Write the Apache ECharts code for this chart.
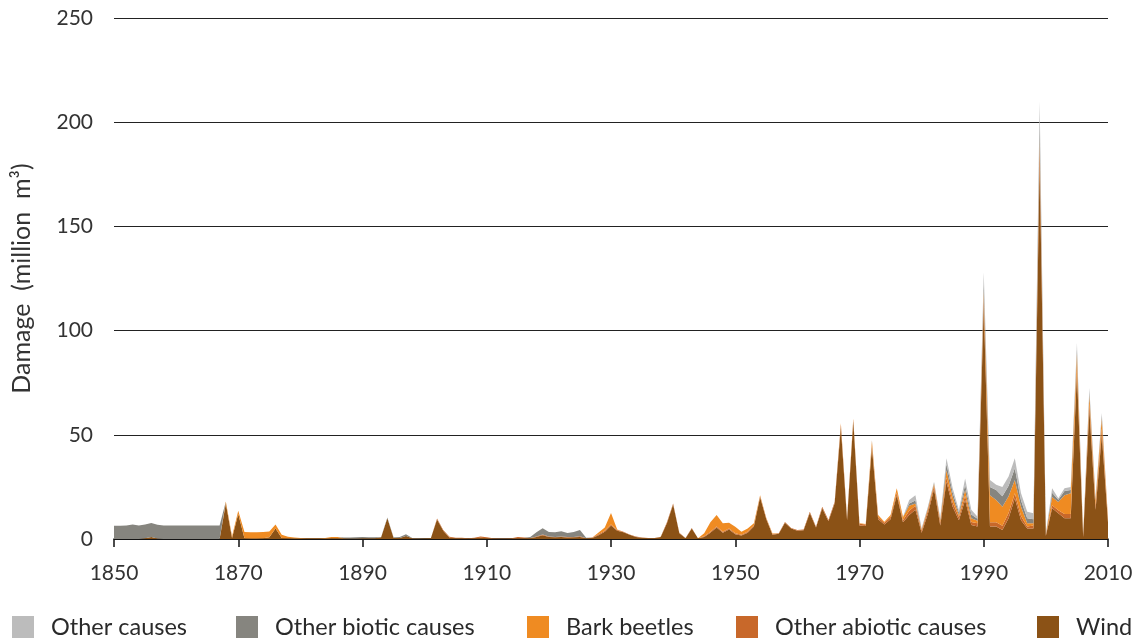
<!DOCTYPE html>
<html>
<head>
<meta charset="utf-8">
<script src="https://cdn.jsdelivr.net/npm/echarts@6/dist/echarts.min.js"></script>
<style>
html,body{margin:0;padding:0;background:#fff;}
#chart{width:1135px;height:640px;}
</style>
</head>
<body>
<div id="chart"></div>
<script>
// Categories: years 1850..2010
var startYear = 1850, endYear = 2010;
var years = [];
for (var y = startYear; y <= endYear; y++) years.push(String(y));

var seriesNames = ['Other causes', 'Other biotic causes', 'Bark beetles', 'Other abiotic causes', 'Wind'];
var yTicks = [0, 50, 100, 150, 200, 250];

// million m3 per year, 1850..2010 (10 values per row)
var wind = [
 0,0,0,0,0,0.3,1,0.2,0,0,
 0,0,0,0,0,0,0,0,17,0.5,
 12,0.3,0.2,0.2,0.3,0.8,5,0.5,0.3,0.2,
 0.2,0.2,0.2,0.2,0.2,0.3,0.3,0.2,0.2,0.2,
 0.3,0.3,0.3,0.8,10,0.6,0.5,1.4,0.3,0.2,
 0.2,0.4,9.3,4,0.6,0.3,0.3,0.2,0.3,0.6,
 0.4,0.2,0.1,0.1,0.2,0.4,0.4,0.3,1,1.8,
 1,0.8,1,0.7,0.8,1,0.3,0.5,1.8,3.5,
 6.5,4,3.2,2,1,0.6,0.4,0.4,0.9,7.5,
 16.5,2.7,0.4,5,0.3,1,3,5.5,3,4.5,
 2.3,1.7,3,6,20,9.5,2,2.5,7.8,5,
 4,4.2,12.5,5.5,14.8,8.5,17.2,53.5,9,56.5,
 6.5,6.2,44,9.5,7,9.5,21,8,11.5,14,
 3,12,24,6.5,27.5,15.5,9,18.7,6.7,6,
 112,6,6,4.3,10,19.5,9,5,5,180,
 1.5,14.7,12.3,10,10,80,1,62,14,50,
 8
];
var otherAbiotic = [
 0,0,0,0,0,0,0,0,0,0,
 0,0,0,0,0,0,0,0,0,0,
 0,0,0,0,0,0,0,0,0,0,
 0,0,0,0,0,0,0,0,0,0,
 0,0,0,0,0,0,0,0,0,0,
 0,0,0.5,0.3,0.5,0.3,0.3,0.2,0.3,0.6,
 0.4,0.2,0.1,0.1,0.2,0.5,0.3,0.2,0.2,0.3,
 0.2,0.2,0.2,0.2,0.2,0.3,0.1,0.2,0.5,0.5,
 0.5,0.3,0.3,0.2,0.2,0.1,0.1,0.1,0.2,0.5,
 0.5,0.3,0.1,0.3,0.1,0.3,0.5,0.5,0.5,0.5,
 0.4,0.3,0.5,0.5,0.5,0.3,0.3,0.3,0.4,0.3,
 0.3,0.3,0.6,0.4,0.7,0.6,0.7,1.5,0.8,1,
 0.8,0.8,1,1,0.8,1,1.3,1,2,2,
 1,1.5,1.5,1.5,2,2,1.5,2,1.5,1.5,
 4,2,2,2,2.5,2.5,2,1,1.5,8,
 0.5,1.5,1.5,2,2,3,0.5,3,2,3,
 1
];
var barkBeetles = [
 0,0,0,0,0,0,0,0,0,0,
 0,0,0,0,0,0,0,0,1,0.8,
 1.5,3,3,3,3,2.8,2,1.5,0.8,0.5,
 0.3,0.2,0.2,0.2,0.3,0.6,0.7,0.2,0,0,
 0,0,0,0,0,0,0,0,0,0,
 0,0,0,0,0,0,0,0,0,0,
 0,0,0,0,0,0,0,0,0,0,
 0,0,0,0,0,0,0,0,0.8,1.5,
 5.5,0.3,0,0,0,0,0,0,0,0,
 0,0,0,0,0,1.5,4.5,5.5,4,2.8,
 3.2,1.5,1.5,1,0.5,0.3,0.3,0,0,0,
 0,0,0,0,0,0,0,0.5,0.2,0.5,
 0.2,0.2,2,1,0.5,1,2,1.5,2.5,1,
 0.5,1,1,1,3.5,2.8,1,2.8,1.8,1.2,
 3,13,10.7,9.2,8,6.3,4.5,1.5,1,4,
 0.3,4,4,9,10,6,0.3,4,2.5,5,
 1
];
var otherBiotic = [
 6.3,6.4,6.5,6.9,6.5,6.6,6.7,6.6,6.5,6.5,
 6.5,6.5,6.5,6.5,6.5,6.5,6.5,6.5,0,0,
 0,0,0,0,0,0,0,0,0,0,
 0,0,0,0,0,0,0,0.3,0.5,0.6,
 0.6,0.5,0.5,0.2,0.3,0.2,0.4,0.9,0.2,0.1,
 0,0,0,0,0,0,0,0,0,0,
 0,0,0,0,0,0,0,0.4,2,3,
 2.2,2.2,2.5,2,2.3,3,0.2,0,0,0,
 0,0,0,0,0,0,0,0,0,0,
 0,0,0,0,0,0,0,0,0,0,
 0,0,0,0,0,0,0,0,0,0,
 0,0,0,0,0,0,0,0,0,0,
 0,0,0.3,0,0,0,0,0,1,1.5,
 0.3,0.5,0.5,0.5,3,2,1.2,2.5,1.8,1,
 4,4,4.8,5,5,5.7,3,2.5,2,8,
 0.2,2,1,2,1.5,2,0.1,1.5,0.6,1.2,
 0
];
var otherCauses = [
 0,0,0,0,0,0,0,0,0,0,
 0,0,0,0,0,0,0,0,0,0,
 0,0,0,0,0,0,0,0,0,0,
 0,0,0,0,0,0,0,0,0,0,
 0,0,0,0,0,0,0,0,0,0,
 0,0,0,0,0,0,0,0,0,0,
 0,0,0,0,0,0,0,0,0,0,
 0,0,0,0,0,0,0,0,0,0,
 0,0,0,0,0,0,0,0,0,0,
 0,0,0,0,0,0,0,0,0,0,
 0,0,0,0,0,0,0,0,0,0,
 0,0,0,0,0,0,0,0,0,0,
 0,0,0.2,0,0,0,0,0.2,1.7,2.5,
 0.3,0.5,0.5,0.4,2.7,2,1.2,3,2.2,1,
 5,3.3,2.5,4.5,4.5,4.7,3.5,3.1,2.8,10,
 0.2,2.1,0.7,1.3,1.5,3,0.1,2,0.6,1.3,
 0
];

var colors = {
  'Other causes': '#bcbcbc',
  'Other biotic causes': '#86857f',
  'Bark beetles': '#ef8b22',
  'Other abiotic causes': '#c8682a',
  'Wind': '#8b5216'
};

function areaSeries(name, data) {
  return {
    name: name, type: 'line', stack: 'total', data: data,
    symbol: 'none', showSymbol: false,
    lineStyle: { width: 0 },
    areaStyle: { color: colors[name], opacity: 1 },
    itemStyle: { color: colors[name] },
    emphasis: { disabled: true },
    animation: false
  };
}

var legendLefts = [12, 236, 527, 736, 1037];
var legends = seriesNames.map(function (n, i) {
  return {
    data: [{ name: n, icon: 'rect' }],
    left: legendLefts[i], top: 615, padding: 0,
    itemWidth: 22, itemHeight: 22,
    selectedMode: false,
    textStyle: { fontSize: 23.5, color: '#2a2a2a', fontFamily: 'Lato', padding: [0, 0, 0, 12] }
  };
});

var chart = echarts.init(document.getElementById('chart'));
chart.setOption({
  animation: false,
  backgroundColor: '#ffffff',
  grid: { left: 114, right: 27, top: 18, bottom: 101, containLabel: false, outerBoundsMode: 'none' },
  legend: legends,
  xAxis: {
    type: 'category', data: years, boundaryGap: false,
    axisLine: { show: true, lineStyle: { color: '#111', width: 1.5 } },
    axisTick: { show: true, interval: 19, length: 8, lineStyle: { color: '#111', width: 1.5 } },
    axisLabel: { interval: 19, margin: 24, fontSize: 21, color: '#333', fontFamily: 'Lato' },
    splitLine: { show: false }
  },
  yAxis: {
    type: 'value', min: yTicks[0], max: yTicks[yTicks.length - 1], interval: 50,
    name: 'Damage  (million  m³)', nameLocation: 'middle', nameGap: 80, nameRotate: 90,
    nameTextStyle: { fontSize: 25, color: '#333', fontFamily: 'Lato' },
    axisLine: { show: false }, axisTick: { show: false },
    axisLabel: { margin: 21, fontSize: 21, color: '#333', fontFamily: 'Lato' },
    splitLine: { show: true, lineStyle: { color: '#222', width: 1 } }
  },
  series: [
    areaSeries('Wind', wind),
    areaSeries('Other abiotic causes', otherAbiotic),
    areaSeries('Bark beetles', barkBeetles),
    areaSeries('Other biotic causes', otherBiotic),
    areaSeries('Other causes', otherCauses)
  ]
});
</script>
</body>
</html>
